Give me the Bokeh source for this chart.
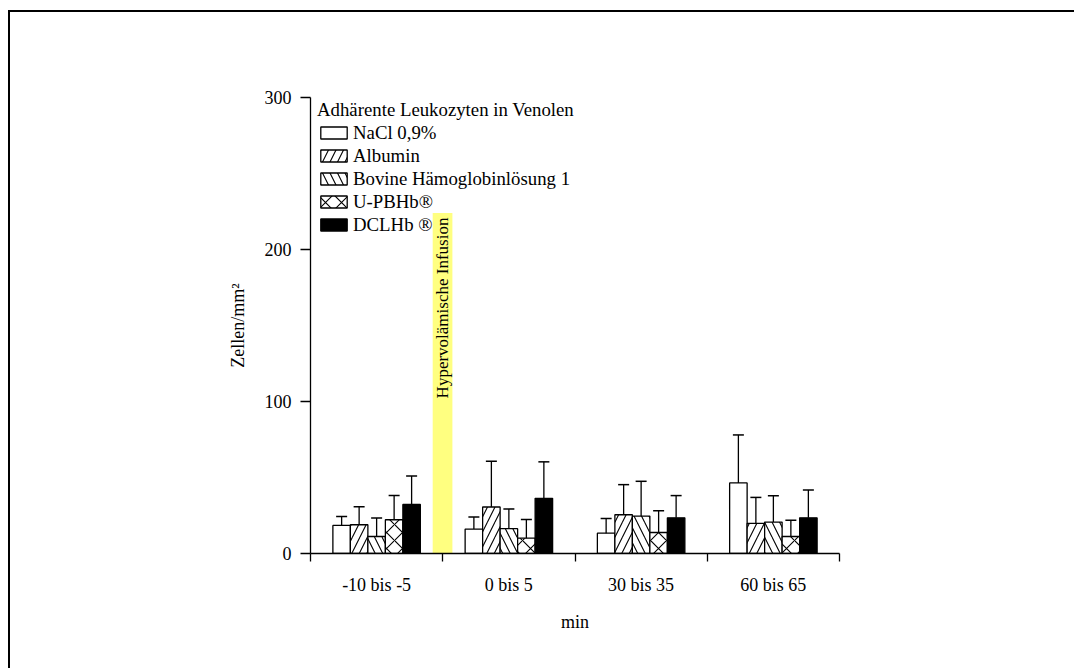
from bokeh.plotting import figure
from bokeh.models import (ColumnDataSource, Legend, LegendItem, Whisker, TeeHead,
                          FixedTicker, Range1d)
from bokeh.core.properties import value
from bokeh.embed import file_html
from bokeh.resources import INLINE

# ---- data ----
categories = ["-10 bis -5", "0 bis 5", "30 bis 35", "60 bis 65"]
series = ["NaCl 0,9%", "Albumin", "Bovine Hämoglobinlösung 1", "U-PBHb®", "DCLHb ®"]
nacl = [18.5, 16.1, 13.4, 46.4]
albumin = [18.9, 30.6, 25.5, 19.8]
bovine = [11.2, 16.3, 24.6, 20.7]
upbhb = [22.2, 10.1, 13.8, 11.2]
dclhb = [32.3, 36.3, 23.5, 23.5]
nacl_err = [5.9, 7.9, 9.7, 31.6]
albumin_err = [11.9, 30.1, 19.8, 17.1]
bovine_err = [12.1, 13.0, 22.9, 17.3]
upbhb_err = [16.0, 12.3, 14.3, 10.6]
dclhb_err = [18.7, 24.0, 14.6, 18.3]
y_ticks = [0, 100, 200, 300]
infusion_label = "Hypervolämische Infusion"
infusion_top = 224
legend_title = "Adhärente Leukozyten in Venolen"
y_label = "Zellen/mm²"
x_label = "min"

values = [nacl, albumin, bovine, upbhb, dclhb]
errors = [nacl_err, albumin_err, bovine_err, upbhb_err, dclhb_err]
fills = ["white", "white", "white", "white", "black"]
hatches = [" ", "/", "\\", "x", " "]
hscales = [14, 15, 15, 16, 14]

FONT = "Liberation Serif"
bw = 0.1323

W, H = 1066, 658
p = figure(width=W, height=H, output_backend="svg", toolbar_location=None,
           x_range=Range1d(0, 4), y_range=Range1d(0, 300),
           min_border_left=300, min_border_top=85, min_border_right=237,
           min_border_bottom=117)
p.styles = {"position": "absolute", "left": "8px", "top": "10px",
            "border-left": "2px solid black", "border-top": "2px solid black"}
p.outline_line_color = None
p.grid.visible = False
p.background_fill_color = "white"
p.border_fill_color = "white"

# infusion band
p.quad(left=[0.924], right=[1.073], bottom=[0], top=[infusion_top],
       fill_color="#ffff80", line_color=None)
p.text(x=[0.9985], y=[infusion_top - 3], text=[infusion_label], angle=1.5708,
       text_align="right", text_baseline="middle", text_font=value(FONT),
       text_font_size="17px", text_color="black")

items = []
for j, (name, vals, errs) in enumerate(zip(series, values, errors)):
    xs = [i + 0.5 + (j - 2) * bw for i in range(len(categories))]
    src = ColumnDataSource(dict(x=xs, top=vals, upper=[v + e for v, e in zip(vals, errs)]))
    r = p.vbar(x="x", top="top", width=bw, source=src, fill_color=fills[j],
               line_color="black", line_width=1.3, hatch_pattern=hatches[j],
               hatch_color="black", hatch_weight=1.1, hatch_scale=hscales[j])
    wk = Whisker(base="x", lower="top", upper="upper", source=src, dimension="height",
                 line_color="black", line_width=1.3,
                 upper_head=TeeHead(size=11, line_width=1.5, line_color="black"),
                 lower_head=None, level="overlay")
    p.add_layout(wk)
    items.append(LegendItem(label=name, renderers=[r]))

legend = Legend(items=items, location=(7, 317), title=legend_title,
                title_text_font=FONT, title_text_font_size="18.8px",
                title_text_font_style="normal", title_standoff=0,
                title_text_color="black",
                label_text_font=FONT, label_text_font_size="18.8px",
                label_text_color="black",
                glyph_width=33, glyph_height=15, label_height=23, spacing=0,
                label_standoff=3, padding=0, margin=0,
                border_line_color=None, background_fill_alpha=0)
p.add_layout(legend)

# axes
xa = p.xaxis[0]
xa.ticker = FixedTicker(ticks=[i + 0.5 for i in range(len(categories))],
                        minor_ticks=list(range(len(categories) + 1)))
xa.major_label_overrides = {i + 0.5: c for i, c in enumerate(categories)}
xa.major_tick_out = 0
xa.major_tick_in = 0
xa.minor_tick_out = 8
xa.minor_tick_in = 0
xa.major_label_standoff = 13
xa.axis_label = x_label
xa.axis_label_standoff = 14

ya = p.yaxis[0]
ya.ticker = FixedTicker(ticks=y_ticks)
ya.major_tick_out = 10
ya.major_tick_in = 0
ya.minor_tick_out = 0
ya.minor_tick_in = 0
ya.major_label_standoff = 9
ya.axis_label = y_label
ya.axis_label_standoff = 14

for ax in (xa, ya):
    ax.axis_line_width = 1.3
    ax.major_tick_line_width = 1.3
    ax.minor_tick_line_width = 1.3
    ax.axis_line_color = "black"
    ax.major_tick_line_color = "black"
    ax.minor_tick_line_color = "black"
    ax.major_label_text_font = FONT
    ax.major_label_text_color = "black"
    ax.axis_label_text_font = FONT
    ax.axis_label_text_font_style = "normal"
    ax.axis_label_text_color = "black"
xa.major_label_text_font_size = "18px"
ya.major_label_text_font_size = "18px"
xa.axis_label_text_font_size = "18px"
ya.axis_label_text_font_size = "18px"

open("out.html", "w").write(file_html(p, INLINE))
